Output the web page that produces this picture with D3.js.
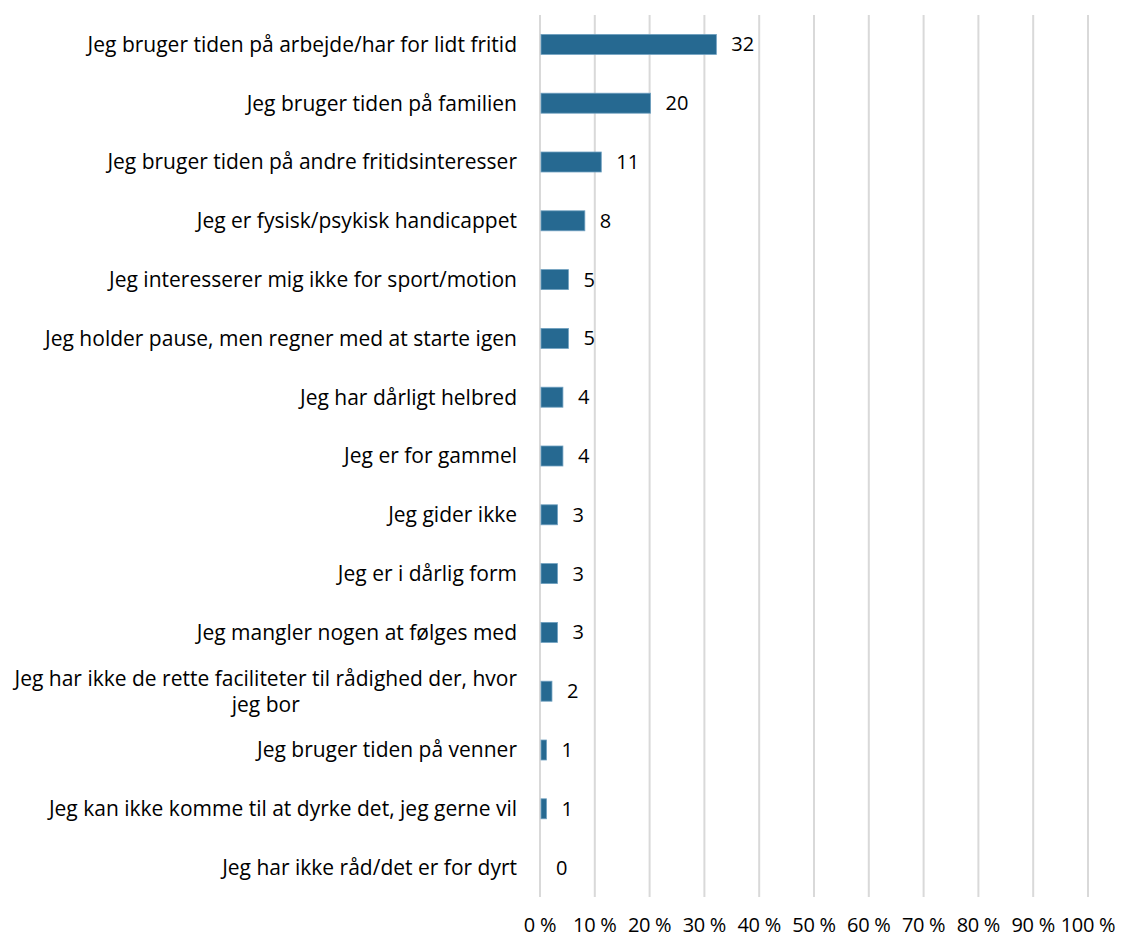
<!DOCTYPE html>
<html>
<head>
<meta charset="utf-8">
<script src="https://cdn.jsdelivr.net/npm/d3@7"></script>
<style>
  body { margin: 0; background: #fff; }
  text { font-family: "Open Sans", Lato, sans-serif; fill: #000; }
</style>
</head>
<body>
<div id="chart"></div>
<script>
// data
const categories = [
  "Jeg bruger tiden på arbejde/har for lidt fritid",
  "Jeg bruger tiden på familien",
  "Jeg bruger tiden på andre fritidsinteresser",
  "Jeg er fysisk/psykisk handicappet",
  "Jeg interesserer mig ikke for sport/motion",
  "Jeg holder pause, men regner med at starte igen",
  "Jeg har dårligt helbred",
  "Jeg er for gammel",
  "Jeg gider ikke",
  "Jeg er i dårlig form",
  "Jeg mangler nogen at følges med",
  "Jeg har ikke de rette faciliteter til rådighed der, hvor|jeg bor",
  "Jeg bruger tiden på venner",
  "Jeg kan ikke komme til at dyrke det, jeg gerne vil",
  "Jeg har ikke råd/det er for dyrt"
];
const values = [32, 20, 11, 8, 5, 5, 4, 4, 3, 3, 3, 2, 1, 1, 0];
const tickValues = [0, 10, 20, 30, 40, 50, 60, 70, 80, 90, 100];

width = 1121;
height = 938;

const svg = d3.select("#chart")
    .append("svg")
        .attr("width", width)
        .attr("height", height)

const x = d3.scaleLinear().domain([0, 100]).range([540, 1088])
const y = d3.scaleBand().domain(d3.range(categories.length)).range([15, 897]).paddingInner(0.66).paddingOuter(0.33)

// gridlines
svg.append("g").selectAll("line")
    .data(tickValues)
    .join("line")
        .attr("x1", d => x(d)).attr("x2", d => x(d))
        .attr("y1", 15).attr("y2", 897)
        .style("stroke", "#d9d9d9")
        .style("stroke-width", 2)

// bars
svg.append("g").selectAll("rect")
    .data(values)
    .join("rect")
        .attr("x", x(0) + 1)
        .attr("y", (d, i) => y(i))
        .attr("width", d => Math.max(0, x(d) - x(0)))
        .attr("height", y.bandwidth())
        .style("fill", "#266991")
        .style("stroke", d => d > 0 ? "#6fa0c0" : "none")
        .style("stroke-width", 0.8)

// value labels
svg.append("g").selectAll("text")
    .data(values)
    .join("text")
        .attr("x", d => x(d) + 16)
        .attr("y", (d, i) => y(i) + y.bandwidth() / 2)
        .attr("dy", "0.35em")
        .style("font-size", "20px")
        .text(d => d)

// category labels, one text per line
const labelG = svg.append("g")
categories.forEach(function(d, i) {
    const lines = d.split("|")
    const yc = y(i) + y.bandwidth() / 2
    const lh = 26
    const texts = lines.map(function(l, k) {
        return labelG.append("text")
            .style("font-size", "21px")
            .attr("y", yc + (k - (lines.length - 1) / 2) * lh)
            .attr("dy", "0.35em")
            .text(l)
    })
    if (lines.length == 1) {
        texts[0].attr("x", 517).attr("text-anchor", "end")
        return
    }
    // wrapped label: lines centred inside a right aligned block
    const maxW = d3.max(texts, t => t.node().getComputedTextLength())
    texts.forEach(t => t.attr("x", 517 - maxW / 2).attr("text-anchor", "middle"))
})

// x axis tick labels
svg.append("g").selectAll("text")
    .data(tickValues)
    .join("text")
        .attr("x", d => x(d))
        .attr("y", 932)
        .attr("text-anchor", "middle")
        .style("font-size", "20px")
        .style("letter-spacing", "-0.3px")
        .text(d => d + " %")
</script>
</body>
</html>
